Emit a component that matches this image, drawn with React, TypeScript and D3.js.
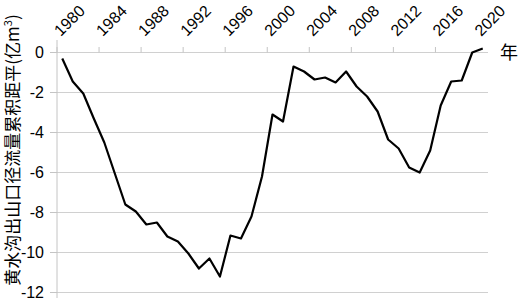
import React from "react";
import * as d3 from "d3";

const years: number[] = [
  1980, 1981, 1982, 1983, 1984, 1985, 1986, 1987, 1988, 1989,
  1990, 1991, 1992, 1993, 1994, 1995, 1996, 1997, 1998, 1999,
  2000, 2001, 2002, 2003, 2004, 2005, 2006, 2007, 2008, 2009,
  2010, 2011, 2012, 2013, 2014, 2015, 2016, 2017, 2018, 2019, 2020,
];
const values: number[] = [
  -0.3, -1.45, -2.05, -3.3, -4.5, -6.05, -7.6, -7.95, -8.6, -8.5,
  -9.2, -9.45, -10.05, -10.8, -10.3, -11.2, -9.15, -9.3, -8.2, -6.2,
  -3.1, -3.45, -0.7, -0.95, -1.35, -1.25, -1.5, -0.95, -1.7, -2.2,
  -2.95, -4.35, -4.8, -5.75, -6.0, -4.9, -2.65, -1.45, -1.4, 0.0, 0.2,
];
const xTickLabels: number[] = [1980, 1984, 1988, 1992, 1996, 2000, 2004, 2008, 2012, 2016, 2020];
const yTicks: number[] = [0, -2, -4, -6, -8, -10, -12];
const yTitle = "黄水沟出山口径流量累积距平(亿m";
const xTitle = "年";

export default function App() {
  const W = 519, H = 298;
  const left = 57, right = 488, top = 52.5, bottom = 292.5;
  const x = d3.scaleBand<number>().domain(years).range([left, right]).padding(0);
  const cx = (yr: number) => (x(yr) as number) + x.bandwidth() / 2;
  const y = d3.scaleLinear().domain([-12, 0]).range([bottom, top]);
  const line = d3.line<number>()
    .x((_, i) => cx(years[i]))
    .y((v) => y(v));
  const tickYears = xTickLabels.filter((yr) => yr < 2020);
  const font = "'Liberation Sans', Arial, sans-serif";
  return (
    <svg width={W} height={H} style={{ position: "absolute", left: 0, top: 0, background: "#fff" }}>
      {yTicks.map((t) => (
        <line key={"g" + t} x1={left} x2={right} y1={y(t)} y2={y(t)} stroke="#d0d0d0" strokeWidth={1} />
      ))}
      <line x1={left} x2={left} y1={40} y2={H} stroke="#c4c4c4" strokeWidth={1} />
      {yTicks.map((t) => (
        <line key={"t" + t} x1={50} x2={left} y1={y(t)} y2={y(t)} stroke="#c4c4c4" strokeWidth={1} />
      ))}
      {tickYears.map((yr) => (
        <line key={"xt" + yr} x1={x(yr) as number} x2={x(yr) as number} y1={47} y2={top} stroke="#c4c4c4" strokeWidth={1} />
      ))}
      {yTicks.map((t) => (
        <text key={"yl" + t} x={44} y={y(t)} dy="0.36em" textAnchor="end" fontSize={16} fontFamily={font} fill="#000">
          {t}
        </text>
      ))}
      {xTickLabels.map((yr) => {
        const ax = cx(yr) - 1.5;
        const ay = 37;
        return (
          <text key={"xl" + yr} x={ax} y={ay} transform={`rotate(-45 ${ax} ${ay})`} fontSize={16} fontFamily={font} fill="#000">
            {yr}
          </text>
        );
      })}
      <path d={line(values) || ""} fill="none" stroke="#000" strokeWidth={2.2} strokeLinejoin="round" />
      <text x={509} y={y(0)} dy="0.35em" textAnchor="middle" fontSize={18} fontFamily="'Noto Sans CJK SC', sans-serif" fill="#000">
        {xTitle}
      </text>
      <text transform="translate(18.5 150) rotate(-90)" textAnchor="middle" fontSize={17} fontFamily="'Noto Sans CJK SC', sans-serif" fill="#000">
        {yTitle}
        <tspan fontSize={11} dy={-7}>3</tspan>
        <tspan dy={7}>)</tspan>
      </text>
    </svg>
  );
}
